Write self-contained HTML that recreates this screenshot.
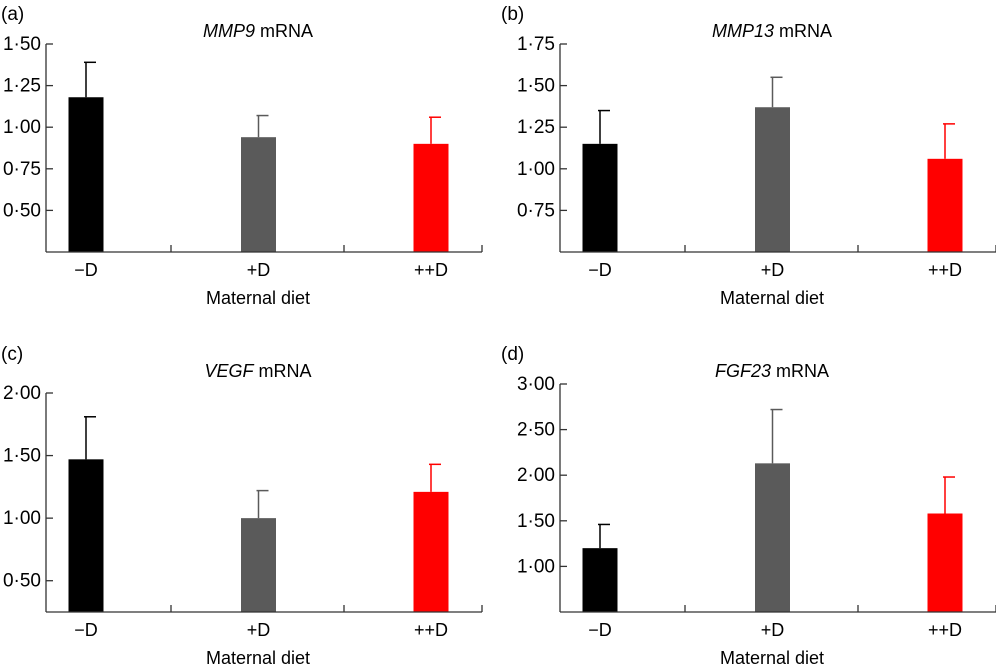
<!DOCTYPE html>
<html><head><meta charset="utf-8"><style>
html,body{margin:0;padding:0;background:#fff}
svg{display:block;font-family:"Liberation Sans",Arial,sans-serif}
</style></head><body>
<svg id="fig" width="996" height="668" viewBox="0 0 996 668" xmlns="http://www.w3.org/2000/svg"></svg>
<script>
const categories = ["\u2212D", "+D", "++D"];
const colors = ["#000000", "#5a5a5a", "#ff0000"];
const meansA = [1.18, 0.94, 0.90];
const errTopA = [1.39, 1.07, 1.06];
const ticksA = [0.50, 0.75, 1.00, 1.25, 1.50];
const meansB = [1.15, 1.37, 1.06];
const errTopB = [1.35, 1.55, 1.27];
const ticksB = [0.75, 1.00, 1.25, 1.50, 1.75];
const meansC = [1.47, 1.00, 1.21];
const errTopC = [1.81, 1.22, 1.43];
const ticksC = [0.50, 1.00, 1.50, 2.00];
const meansD = [1.20, 2.13, 1.58];
const errTopD = [1.46, 2.72, 1.98];
const ticksD = [1.00, 1.50, 2.00, 2.50, 3.00];

const NS = "http://www.w3.org/2000/svg";
const svg = document.getElementById("fig");
function mk(tag, attrs, parent){const e=document.createElementNS(NS,tag);for(const k in attrs)e.setAttribute(k,attrs[k]);parent.appendChild(e);return e;}

const panels = [
 {id:"a", gene:"MMP9", means:meansA, errs:errTopA, ticks:ticksA, lo:0.25, hi:1.50, ox:0, oy:0, ax:46},
 {id:"b", gene:"MMP13", means:meansB, errs:errTopB, ticks:ticksB, lo:0.50, hi:1.75, ox:500, oy:0, ax:560},
 {id:"c", gene:"VEGF", means:meansC, errs:errTopC, ticks:ticksC, lo:0.25, hi:2.00, ox:0, oy:340, ax:46},
 {id:"d", gene:"FGF23", means:meansD, errs:errTopD, ticks:ticksD, lo:0.50, hi:3.00, ox:500, oy:340, ax:560}
];

panels.forEach(p=>{
  const g = mk("g",{},svg);
  
  
  const top = p.id==="c" ? p.oy+53 : p.oy+44;
  const bottom = p.oy+(p.id==="a"||p.id==="b"?252:272);
  const ax = p.ax, right = ax+436;
  const y = v => bottom - (v-p.lo)/(p.hi-p.lo)*(bottom-top);
  const cx = i => ax + 40 + i*172.5;
  const lab = mk("text",{x:p.ox+1, y:p.oy+20, "font-size":"19", fill:"#000"},g);
  lab.textContent = "("+p.id+")";
  
  
  const t = mk("text",{x:ax+212, y:p.oy+37, "font-size":"18", "text-anchor":"middle", fill:"#000"},g);
  
  
  const ti = mk("tspan",{"font-style":"italic"},t); ti.textContent = p.gene;
  const tr = mk("tspan",{},t); tr.textContent = " mRNA";
  p.means.forEach((m,i)=>{
    const c = cx(i);
    const el = mk("line",{x1:c,x2:c,y1:y(p.errs[i]),y2:y(m),stroke:colors[i],"stroke-width":"1.5"},g);
    
    
    const cap = mk("line",{x1:c-2,x2:c+10,y1:y(p.errs[i]),y2:y(p.errs[i]),stroke:colors[i],"stroke-width":"1.5"},g);
    
    
    const r = mk("rect",{x:c-17.5,y:y(m),width:35,height:bottom-y(m),fill:colors[i]},g);
    
    
    const xl = mk("text",{x:c,y:bottom+24,"font-size":"18","text-anchor":"middle",fill:"#000"},g);
    xl.textContent = categories[i];
    
    
  });
  const ya = mk("line",{x1:ax,x2:ax,y1:top,y2:bottom,stroke:"#333","stroke-width":"1.3"},g);
  
  
  const xa = mk("line",{x1:ax,x2:right,y1:bottom,y2:bottom,stroke:"#333","stroke-width":"1.3"},g);
  
  
  [ax+125, ax+298, right].forEach(tx=>{
    const tk = mk("line",{x1:tx,x2:tx,y1:bottom-7,y2:bottom,stroke:"#333","stroke-width":"1.3"},g);
    
    
  });
  p.ticks.forEach(v=>{
    const tk = mk("line",{x1:ax,x2:ax+7,y1:y(v),y2:y(v),stroke:"#333","stroke-width":"1.3"},g);
    
    
    const tl = mk("text",{x:ax-5,y:y(v)+6,"font-size":"19","text-anchor":"end",fill:"#000"},g);
    tl.textContent = v.toFixed(2).replace(".","\u00b7");
    
    
  });
  const xt = mk("text",{x:ax+212,y:bottom+52,"font-size":"18","text-anchor":"middle",fill:"#000"},g);
  xt.textContent = "Maternal diet";
  
  
});
</script>
</body></html>
